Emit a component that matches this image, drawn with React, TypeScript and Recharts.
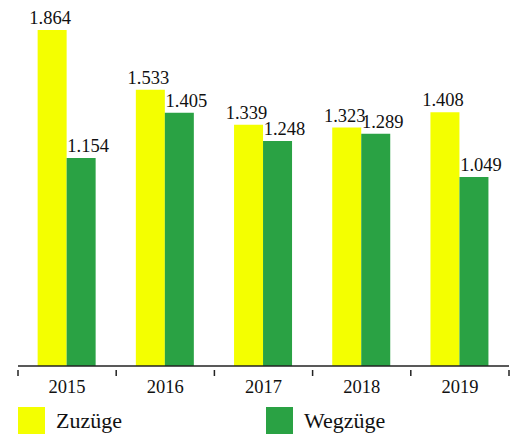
import React from 'react';
import { BarChart, Bar, XAxis, YAxis, LabelList, Legend } from 'recharts';

const years = ['2015', '2016', '2017', '2018', '2019'];
const zuzuege = [1864, 1533, 1339, 1323, 1408];
const wegzuege = [1154, 1405, 1248, 1289, 1049];

const YELLOW = '#f4ff00';
const GREEN = '#2aa244';
const FONT = '"Liberation Serif", "Times New Roman", serif';

const W = 517;
const H = 434;
const M = { top: 30, right: 8, left: 18, bottom: 0 };

const data = years.map((year, i) => ({ year, zuzuege: zuzuege[i], wegzuege: wegzuege[i] }));

// 1864 -> "1.864"
const fmt = (v: number) => {
  const s = String(Math.round(v));
  return s.length > 3 ? `${s.slice(0, -3)}.${s.slice(-3)}` : s;
};

const band = (W - M.left - M.right) / years.length;

// year label in the middle, tick marks on the category borders
const YearTick = (props: any) => {
  const { x, y, payload, index } = props;
  const left = x - band / 2;
  return (
    <g>
      <line x1={left} x2={left} y1={y - 4} y2={y + 2} stroke="#222" strokeWidth={1.5} />
      {index === years.length - 1 && (
        <line x1={left + band} x2={left + band} y1={y - 4} y2={y + 2} stroke="#222" strokeWidth={1.5} />
      )}
      <text x={x} y={y + 19} textAnchor="middle" style={{ fontFamily: FONT }} fontSize={18.5} fill="#111">
        {payload.value}
      </text>
    </g>
  );
};

const valueLabel = (dx: number) => (props: any) => {
  const { x, y, width, value } = props;
  return (
    <text x={x + width / 2 + dx} y={y - 6} textAnchor="middle" style={{ fontFamily: FONT }} fontSize={18.5} fill="#111">
      {fmt(value)}
    </text>
  );
};

const LegendBox = () => (
  <div style={{ position: 'relative', width: W, height: 44, fontFamily: FONT, fontSize: 22, color: '#111' }}>
    <div style={{ position: 'absolute', left: 18, top: 17, width: 27, height: 27, background: YELLOW }} />
    <div style={{ position: 'absolute', left: 56, top: 19, lineHeight: '24px' }}>Zuzüge</div>
    <div style={{ position: 'absolute', left: 266, top: 17, width: 27, height: 27, background: GREEN }} />
    <div style={{ position: 'absolute', left: 304, top: 19, lineHeight: '24px' }}>Wegzüge</div>
  </div>
);

export default function App() {
  return (
    <div style={{ position: 'absolute', left: 0, top: 0, width: W, height: H, background: '#fff', overflow: 'hidden' }}>
      <BarChart width={W} height={H} data={data} margin={M} barCategoryGap="20%" barGap={0}>
        <XAxis
          dataKey="year"
          height={24}
          axisLine={{ stroke: '#222', strokeWidth: 1.5 }}
          tickLine={false}
          tick={<YearTick />}
          interval={0}
        />
        <YAxis hide domain={[0, 1864]} />
        <Legend
          verticalAlign="bottom"
          height={44}
          wrapperStyle={{ left: 0, width: W }}
          content={() => <LegendBox />}
        />
        <Bar dataKey="zuzuege" name="Zuzüge" fill={YELLOW} isAnimationActive={false}>
          <LabelList dataKey="zuzuege" content={valueLabel(-2)} />
        </Bar>
        <Bar dataKey="wegzuege" name="Wegzüge" fill={GREEN} isAnimationActive={false}>
          <LabelList dataKey="wegzuege" content={valueLabel(7)} />
        </Bar>
      </BarChart>
    </div>
  );
}
